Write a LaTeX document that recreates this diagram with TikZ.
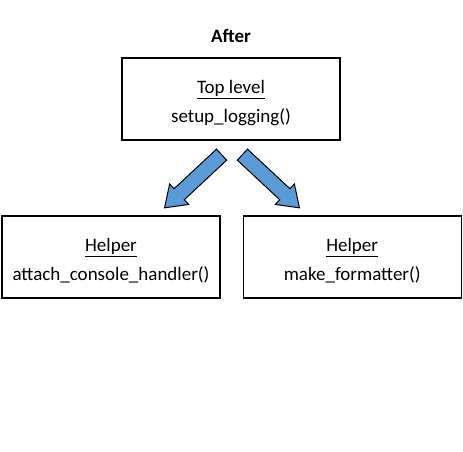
\documentclass[tikz,border=0pt]{standalone}
\usepackage{fontspec}
\setmainfont{Carlito}
\usepackage{tikz}
\usetikzlibrary{positioning}
\usetikzlibrary{calc}
\usetikzlibrary{shapes.arrows}

\definecolor{arrowblue}{RGB}{91,155,213}
\newcommand{\upstrut}{\rule{0pt}{21pt}}

\tikzset{
	box/.style={draw, line width=1.2pt, minimum width=218pt, minimum height=82pt, align=center, font=\fontsize{19}{22}\selectfont},
	blockarrow/.style={single arrow, draw, fill=arrowblue, line width=1pt, inner xsep=0pt, inner ysep=7pt, minimum height=78pt, single arrow head extend=6.5pt, single arrow tip angle=70},
}

\begin{document}
\begin{tikzpicture}[x=1pt, y=1pt]
	\useasboundingbox (0,0) rectangle (463,451);
	\node[font=\fontsize{19}{22}\selectfont\bfseries] (title) at (231,415) {After};
	\node[box] (top) at (231,352) {\upstrut\underline{Top level}\\[7pt]setup\_logging()};
	\node[box] (hl) at (111,194) {\upstrut\underline{Helper}\\[7pt]attach\_console\_handler()};
	\node[box] (hr) [right=22pt of hl] {\upstrut\underline{Helper}\\[7pt]make\_formatter()};

	\node[blockarrow, rotate=-137] (al) at ($(top.south)+(-34,-37)$) {};
	\node[blockarrow, rotate=-43] (ar) at ($(top.south)+(36,-37)$) {};
\end{tikzpicture}
\end{document}
